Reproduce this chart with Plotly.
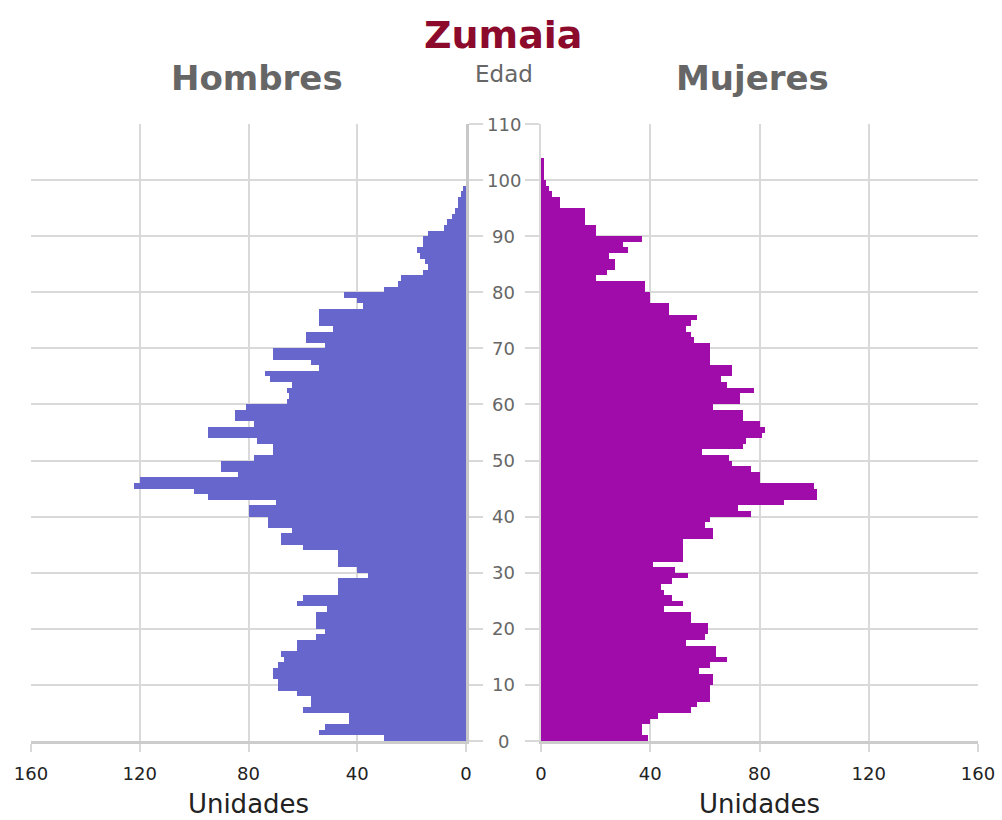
import plotly.graph_objects as go

# ---------------- data ----------------
ages = list(range(0, 104))
hombres = [30, 54, 52, 43, 43, 60, 57, 57, 62, 69,
           69, 71, 71, 69, 67, 68, 62, 62, 55, 52,
           55, 55, 55, 51, 62, 60, 47, 47, 47, 36,
           40, 47, 47, 47, 60, 68, 68, 64, 73, 73,
           80, 80, 70, 95, 100, 122, 120, 84, 90, 90,
           78, 71, 71, 77, 95, 95, 78, 85, 85, 81,
           66, 65, 66, 64, 72, 74, 54, 57, 71, 71,
           52, 59, 59, 49, 54, 54, 54, 38, 40, 45,
           30, 25, 24, 16, 14, 15, 17, 18, 16, 16,
           14, 8, 7, 5, 4, 3, 3, 2, 1, 0,
           0, 0, 0, 0]
mujeres = [39, 37, 37, 40, 43, 55, 57, 62, 62, 62,
           63, 63, 58, 62, 68, 64, 64, 53, 60, 61,
           61, 55, 55, 45, 52, 48, 45, 44, 48, 54,
           49, 41, 52, 52, 52, 52, 63, 63, 60, 62,
           77, 72, 89, 101, 101, 100, 80, 80, 77, 70,
           69, 59, 74, 75, 81, 82, 80, 74, 74, 63,
           73, 73, 78, 68, 66, 70, 70, 62, 62, 62,
           62, 56, 55, 53, 55, 57, 47, 47, 40, 40,
           38, 38, 20, 24, 27, 27, 25, 32, 30, 37,
           20, 20, 16, 16, 16, 7, 7, 4, 3, 2,
           1, 1, 1, 1]
age_ticks = list(range(0, 111, 10))
x_ticks = [0, 40, 80, 120, 160]

title_text = "Zumaia"
left_label = "Hombres"
right_label = "Mujeres"
center_label = "Edad"
x_title = "Unidades"

# ---------------- style ----------------
W, H = 1002, 820
FONT = "DejaVu Sans, Verdana, sans-serif"
GRID = "#d9d9d9"
MALE = "#6666cc"
FEMALE = "#a00caa"


def px(x):
    return x / W


def py(y):
    return 1 - y / H


fig = go.Figure()
fig.add_trace(go.Bar(
    y=ages, x=hombres, orientation="h", width=1, offset=0,
    marker=dict(color=MALE, line=dict(width=0)),
    xaxis="x", yaxis="y", name=left_label, showlegend=False,
))
fig.add_trace(go.Bar(
    y=ages, x=mujeres, orientation="h", width=1, offset=0,
    marker=dict(color=FEMALE, line=dict(width=0)),
    xaxis="x2", yaxis="y2", name=right_label, showlegend=False,
))

xcommon = dict(
    tickvals=x_ticks, showgrid=True, gridcolor=GRID, gridwidth=2,
    ticks="outside", ticklen=8, tickcolor=GRID, tickwidth=2,
    tickfont=dict(size=18, color="#222222", family=FONT),
    showline=True, linecolor="#cccccc", linewidth=3, zeroline=False,
    title=dict(text=x_title, font=dict(size=26, color="#222222", family=FONT), standoff=13),
    ticklabelstandoff=6, automargin=False,
    fixedrange=True,
)
ydom = [py(741), py(124)]
ycommon = dict(
    domain=ydom, range=[0, 110], tickvals=age_ticks, showticklabels=False,
    showgrid=True, gridcolor=GRID, gridwidth=2,
    ticks="outside", ticklen=14, tickcolor=GRID, tickwidth=2,
    zeroline=False, fixedrange=True, automargin=False,
)

fig.update_layout(
    width=W, height=H, margin=dict(l=0, r=0, t=0, b=0, autoexpand=False),
    paper_bgcolor="white", plot_bgcolor="white",
    bargap=0, barmode="overlay",
    font=dict(family=FONT),
    xaxis=dict(domain=[px(31), px(466)], range=[160, 0], anchor="y", **xcommon),
    xaxis2=dict(domain=[px(541), px(978)], range=[0, 160], anchor="y2", **xcommon),
    yaxis=dict(anchor="x", side="right", showline=True, linecolor="#c8c8c8", linewidth=3, **ycommon),
    yaxis2=dict(anchor="x2", side="left", showline=True, linecolor=GRID, linewidth=2, **ycommon),
)

ann = [
    dict(text=f"<b>{title_text}</b>", x=px(503), y=py(35), font=dict(size=38, color="#8c0a2c", family=FONT)),
    dict(text=f"<b>{left_label}</b>", x=px(257), y=py(78), font=dict(size=34, color="#666666", family=FONT)),
    dict(text=f"<b>{right_label}</b>", x=px(752), y=py(78), font=dict(size=34, color="#666666", family=FONT)),
    dict(text=center_label, x=px(504), y=py(74), font=dict(size=23, color="#666666", family=FONT)),
]
for a in ann:
    a.update(xref="paper", yref="paper", showarrow=False, xanchor="center", yanchor="middle")
    fig.add_annotation(**a)

for t in age_ticks:
    fig.add_annotation(text=str(t), x=px(504), y=t, xref="paper", yref="y",
                       showarrow=False, xanchor="center", yanchor="middle",
                       font=dict(size=18, color="#666666", family=FONT))

fig.write_html("out.html", config={"displayModeBar": False},
               post_script="document.body.style.margin='0';document.body.style.overflow='hidden';")
